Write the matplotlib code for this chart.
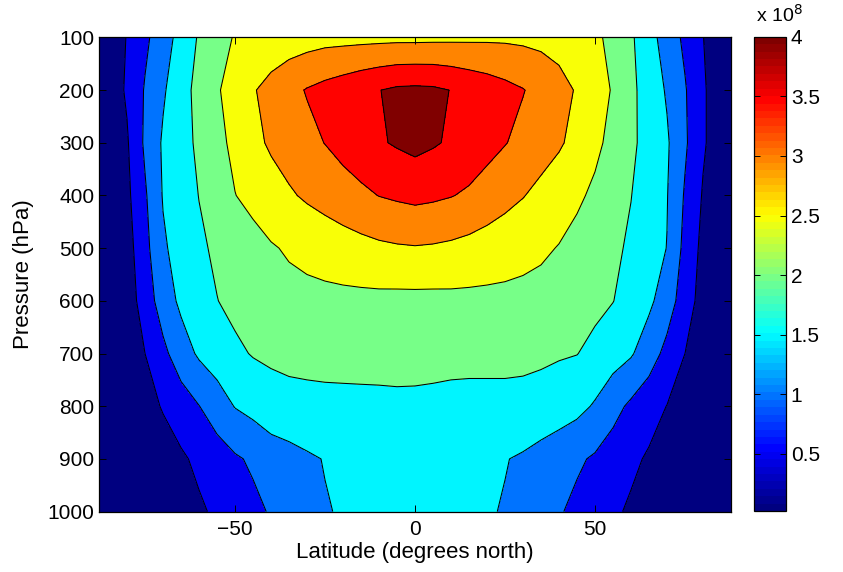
import numpy as np
import matplotlib
matplotlib.use('Agg')
import matplotlib.pyplot as plt
from matplotlib.colors import LinearSegmentedColormap, Normalize
from matplotlib.cm import ScalarMappable

plt.rcParams['font.family'] = ['Liberation Sans', 'DejaVu Sans']

# latitude columns (degrees north) and pressure rows (hPa)
lats = [-87.7, -80, -75, -70, -65, -60, -55, -50, -45, -40, -35, -30, -25, -20, -15, -10, -5, 0,
        5, 10, 15, 20, 25, 30, 35, 40, 45, 50, 55, 60, 65, 70, 75, 80, 87.7]
pressures = [100, 200, 300, 400, 500, 600, 700, 800, 900, 1000]

# field values in units of 1e8, one list per pressure level
p100 = [0.05, 0.52, 0.90, 1.28, 1.67, 2.05, 2.34, 2.53, 2.60, 2.67, 2.74, 2.79, 2.84, 2.85, 2.86, 2.87, 2.88, 2.88,
        2.89, 2.90, 2.91, 2.92, 2.92, 2.90, 2.87, 2.82, 2.70, 2.58, 2.39, 2.07, 1.68, 1.28, 0.90, 0.51, 0.05]
p200 = [0.05, 0.56, 1.04, 1.44, 1.81, 2.15, 2.45, 2.71, 2.96, 3.17, 3.36, 3.53, 3.65, 3.76, 3.88, 3.99, 4.08, 4.10,
        4.08, 3.99, 3.87, 3.76, 3.64, 3.52, 3.35, 3.16, 2.96, 2.72, 2.46, 2.11, 1.78, 1.45, 1.04, 0.56, 0.05]
p300 = [0.05, 0.45, 1.08, 1.56, 1.82, 2.09, 2.36, 2.62, 2.87, 3.07, 3.22, 3.37, 3.51, 3.66, 3.80, 3.95, 4.05, 4.14,
        4.05, 3.94, 3.80, 3.66, 3.52, 3.37, 3.21, 3.06, 2.85, 2.61, 2.36, 2.09, 1.83, 1.56, 1.07, 0.56, 0.05]
p400 = [0.05, 0.39, 0.94, 1.53, 1.77, 2.01, 2.25, 2.49, 2.64, 2.79, 2.94, 3.07, 3.18, 3.29, 3.40, 3.51, 3.57, 3.62,
        3.58, 3.52, 3.43, 3.29, 3.15, 3.02, 2.87, 2.72, 2.58, 2.41, 2.21, 2.01, 1.76, 1.52, 0.95, 0.46, 0.05]
p500 = [0.05, 0.30, 0.85, 1.43, 1.70, 1.92, 2.08, 2.21, 2.33, 2.46, 2.55, 2.62, 2.70, 2.78, 2.85, 2.91, 2.95, 2.97,
        2.95, 2.91, 2.85, 2.78, 2.71, 2.64, 2.57, 2.48, 2.35, 2.22, 2.09, 1.93, 1.71, 1.49, 0.86, 0.37, 0.05]
p600 = [0.05, 0.24, 0.73, 1.24, 1.60, 1.80, 1.99, 2.12, 2.22, 2.30, 2.36, 2.38, 2.38, 2.38, 2.38, 2.38, 2.37, 2.37,
        2.37, 2.38, 2.38, 2.38, 2.38, 2.37, 2.35, 2.30, 2.22, 2.12, 2.01, 1.81, 1.60, 1.24, 0.75, 0.30, 0.05]
p700 = [0.02, 0.12, 0.50, 0.88, 1.27, 1.57, 1.74, 1.91, 2.03, 2.06, 2.085, 2.10, 2.12, 2.13, 2.14, 2.15, 2.17, 2.16,
        2.13, 2.10, 2.09, 2.09, 2.09, 2.09, 2.07, 2.04, 2.01, 1.87, 1.71, 1.55, 1.23, 0.86, 0.50, 0.14, 0.02]
p800 = [0.02, 0.10, 0.31, 0.54, 0.76, 0.99, 1.26, 1.52, 1.65, 1.85, 1.89, 1.90, 1.90, 1.90, 1.90, 1.90, 1.90, 1.90,
        1.90, 1.90, 1.90, 1.90, 1.90, 1.88, 1.84, 1.75, 1.64, 1.45, 1.16, 0.91, 0.70, 0.49, 0.29, 0.08, 0.02]
p900 = [0.02, 0.03, 0.09, 0.26, 0.43, 0.60, 0.77, 0.94, 1.07, 1.19, 1.31, 1.43, 1.52, 1.56, 1.61, 1.66, 1.70, 1.75,
        1.70, 1.66, 1.61, 1.57, 1.52, 1.44, 1.31, 1.19, 1.07, 0.94, 0.77, 0.60, 0.44, 0.27, 0.10, 0.03, 0.02]
p1000 = [0.02, 0.02, 0.03, 0.12, 0.27, 0.43, 0.58, 0.74, 0.89, 1.04, 1.18, 1.33, 1.47, 1.54, 1.58, 1.63, 1.68, 1.72,
         1.68, 1.63, 1.58, 1.54, 1.47, 1.33, 1.18, 1.04, 0.89, 0.74, 0.58, 0.43, 0.27, 0.12, 0.03, 0.02, 0.02]

levels = [0, 0.5, 1.0, 1.5, 2.0, 2.5, 3.0, 3.5, 4.0, 4.5]
cbar_ticks = [0.5, 1, 1.5, 2, 2.5, 3, 3.5, 4]
cbar_labels = ['0.5', '1', '1.5', '2', '2.5', '3', '3.5', '4']

# matlab style jet
jet = LinearSegmentedColormap.from_list('mjet', [(0, (0, 0, 0.5)), (1/8, (0, 0, 1)), (3/8, (0, 1, 1)),
                                                 (5/8, (1, 1, 0)), (7/8, (1, 0, 0)), (1, (0.5, 0, 0))], N=64)
vmin, vmax = 0.02, 4.0
band_colors = [jet((max(lv, vmin) - vmin) / (vmax - vmin)) for lv in levels[:-1]]

z = np.array([p100, p200, p300, p400, p500, p600, p700, p800, p900, p1000])

fig = plt.figure(figsize=(8.43, 5.72), dpi=100)
ax = fig.add_axes([0.1178, 0.1056, 0.749, 0.829])
ax.contourf(lats, pressures, z, levels=levels, colors=band_colors)
ax.contour(lats, pressures, z, levels=levels[1:-1], colors='k', linewidths=0.75)
ax.set_xlim(-87.7, 87.7)
ax.set_ylim(1000, 100)
ax.set_xticks([-50, 0, 50])
ax.set_yticks(pressures)
ax.tick_params(direction='in', top=True, right=True, length=5, width=0.7, labelsize=15)
ax.tick_params(axis='x', pad=6)
for s in ax.spines.values():
    s.set_linewidth(0.9)
ax.set_xlabel('Latitude (degrees north)', fontsize=16, labelpad=2)
ax.set_ylabel('Pressure (hPa)', fontsize=16, labelpad=10)

cax = fig.add_axes([0.8948, 0.1066, 0.0376, 0.829])
sm = ScalarMappable(norm=Normalize(vmin, vmax), cmap=jet)
cb = fig.colorbar(sm, cax=cax, ticks=cbar_ticks)
cb.ax.set_yticklabels(cbar_labels)
cb.ax.tick_params(direction='in', left=True, right=True, length=4, width=0.7, labelsize=15)
cb.outline.set_linewidth(0.9)
fig.text(0.897, 0.962, r'x 10$^8$', fontsize=14, ha='left', va='baseline')

fig.savefig('out.png', dpi=100)
